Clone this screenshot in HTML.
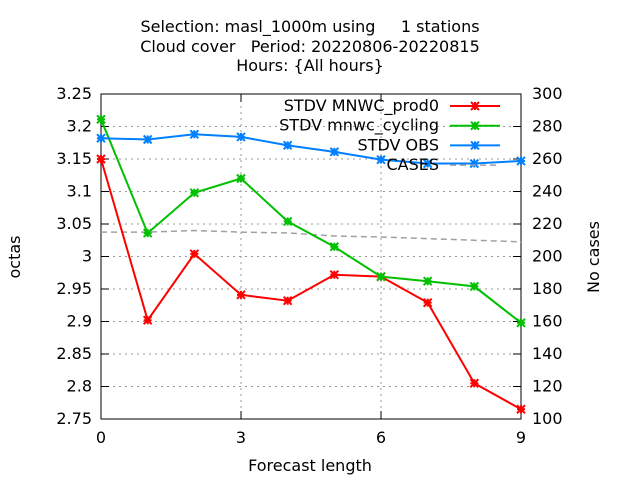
<!DOCTYPE html>
<html><head><meta charset="utf-8"><style>body{margin:0;background:#fff}svg{display:block;font-family:"DejaVu Sans","Liberation Sans",sans-serif}text{white-space:pre}</style></head>
<body>
<svg id="c" width="640" height="480"></svg>
<script>
const steps=[0,1,2,3,4,5,6,7,8,9];
const prod0=[3.15,2.902,3.004,2.941,2.932,2.972,2.969,2.929,2.805,2.765];
const cycling=[3.211,3.036,3.098,3.12,3.054,3.015,2.969,2.962,2.954,2.898];
const obs=[3.182,3.180,3.188,3.184,3.171,3.161,3.149,3.143,3.143,3.147];
const cases=[215,215,216,215,214.5,212.6,212,211,210,209];
const yTicks=["2.75","2.8","2.85","2.9","2.95","3","3.05","3.1","3.15","3.2","3.25"];
const y2Ticks=[100,120,140,160,180,200,220,240,260,280,300];
const xTicks=[0,3,6,9];
const L=101,R=521,T=94,B=419;
const sx=v=>L+(v-0)/9*(R-L);
const sy=v=>B-(v-2.75)/0.5*(B-T);
const sy2=v=>B-(v-100)/200*(B-T);
const svg=document.getElementById('c');const NS='http://www.w3.org/2000/svg';
function el(t,a,p){const e=document.createElementNS(NS,t);for(const k in a)e.setAttribute(k,a[k]);(p||svg).appendChild(e);return e;}
function txt(x,y,s,anchor,extra){const e=el('text',Object.assign({x:x,y:y,'font-size':16,'text-anchor':anchor||'middle',fill:'#000'},extra||{}));e.textContent=s;return e;}
yTicks.forEach(t=>{const y=sy(+t);
const g=el('line',{x1:L,x2:R,y1:y,y2:y,stroke:'#999','stroke-dasharray':'2,4','stroke-width':1});

el('line',{x1:L,x2:L+8,y1:y,y2:y,stroke:'#000'});
const lb=txt(L-9,y+5,t,'end');});
y2Ticks.forEach(t=>{const y=sy2(t);el('line',{x1:R-8,x2:R,y1:y,y2:y,stroke:'#000'});
const lb=txt(R+11,y+5,String(t),'start');});
xTicks.forEach(t=>{const x=sx(t);
if(t>0&&t<9){el('line',{x1:x,x2:x,y1:T,y2:B,stroke:'#999','stroke-dasharray':'2,4'});}
el('line',{x1:x,x2:x,y1:B,y2:B-8,stroke:'#000'});el('line',{x1:x,x2:x,y1:T,y2:T+8,stroke:'#000'});
const lb=txt(x,B+24,String(t));});
const fr=el('rect',{x:L,y:T,width:R-L,height:B-T,fill:'none',stroke:'#000'});

const cp=el('polyline',{points:steps.map((s,i)=>sx(s)+','+sy2(cases[i])).join(' '),fill:'none',stroke:'#a0a0a0','stroke-width':1.5,'stroke-dasharray':'6,4'});

function star(x,y,c,g){el('path',{d:`M${x-4} ${y-4}L${x+4} ${y+4}M${x-4} ${y+4}L${x+4} ${y-4}M${x-4} ${y}L${x+4} ${y}M${x} ${y-4}L${x} ${y+4}`,stroke:c,'stroke-width':2},g);}
function series(data,c,name){const g=el('g',{});
el('polyline',{points:steps.map((s,i)=>sx(s)+','+sy(data[i])).join(' '),fill:'none',stroke:c,'stroke-width':2},g);
steps.forEach((s,i)=>star(sx(s),sy(data[i]),c,g));}
series(prod0,'#ff0000','series-prod0');series(cycling,'#00c000','series-cycling');series(obs,'#0080ff','series-obs');
[["STDV MNWC_prod0",'#ff0000',1],["STDV mnwc_cycling",'#00c000',1],["STDV OBS",'#0080ff',1],["CASES",'#a0a0a0',0]].forEach((d,i)=>{
const y=106+i*19.7;const g=el('g',{});
const t=txt(439,y+5,d[0],'end');g.appendChild(t);
if(d[2]){el('line',{x1:450,x2:500,y1:y,y2:y,stroke:d[1],'stroke-width':2},g);star(475,y,d[1],g);}
else el('line',{x1:450,x2:500,y1:y,y2:y,stroke:d[1],'stroke-width':1.5,'stroke-dasharray':'6,4'},g);});
[["Selection: masl_1000m using     1 stations",32],["Cloud cover   Period: 20220806-20220815",52],["Hours: {All hours}",71]].forEach(d=>{const t=txt(310,d[1],d[0]);});
const xl=txt(310,471,'Forecast length');
const yl=txt(0,0,'octas','middle',{transform:'translate(20,257) rotate(-90)'});
const y2=txt(0,0,'No cases','middle',{transform:'translate(599,257) rotate(-90)'});
</script>
</body></html>
